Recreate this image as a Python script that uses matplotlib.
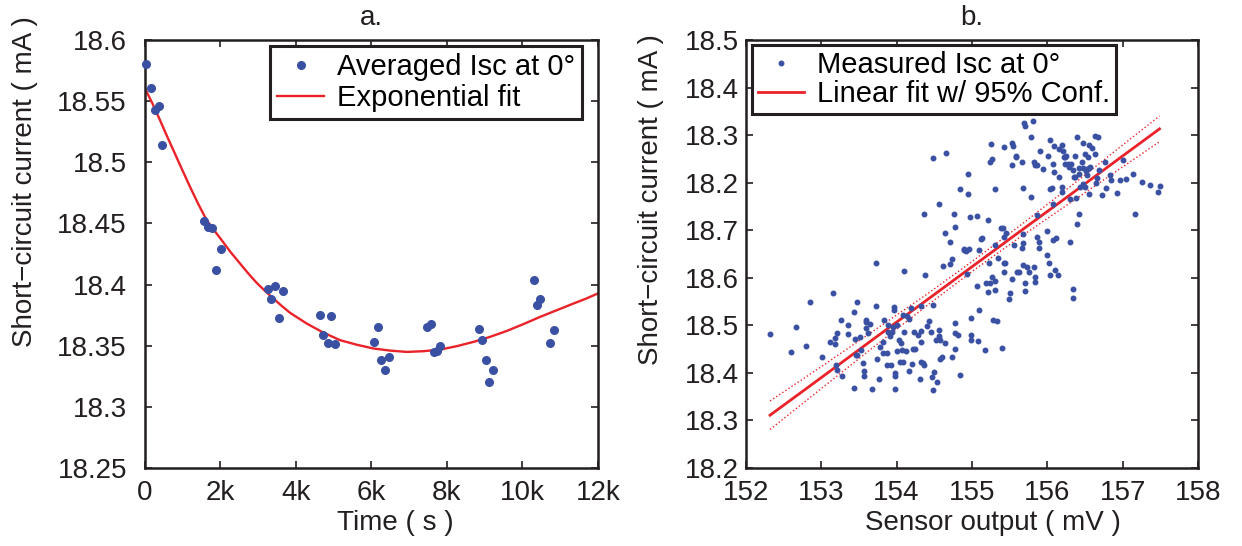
import matplotlib
matplotlib.use("Agg")
import matplotlib.pyplot as plt

plt.rcParams["font.family"] = ["Liberation Sans", "DejaVu Sans"]

BLUE = "#3a51a3"
RED = "#ea2229"
INK = "#231f20"

# ---- panel a: averaged Isc vs time ----
time_s = [30, 150, 265, 371, 442, 1573, 1679, 1767, 2006, 1891,
          3252, 3446, 3659, 3340, 3561, 4640, 4940, 4719, 4852, 5046,
          6080, 6168, 6257, 6469, 6363, 7467, 7573, 7653, 7741, 7829,
          8837, 8934, 9040, 9217, 9120, 10295, 10472, 10375, 10825, 10719]
isc_avg = [18.580, 18.561, 18.543, 18.546, 18.514, 18.452, 18.447, 18.446, 18.429, 18.412,
           18.396, 18.399, 18.395, 18.388, 18.373, 18.375, 18.374, 18.359, 18.352, 18.351,
           18.353, 18.365, 18.338, 18.341, 18.330, 18.365, 18.368, 18.345, 18.346, 18.350,
           18.364, 18.355, 18.338, 18.330, 18.320, 18.404, 18.388, 18.383, 18.363, 18.352]

fit_t = [0, 200, 398, 575, 751, 970, 1193, 1410, 1635, 1830, 2033, 2270, 2519, 2740,
         2960, 3180, 3402, 3620, 3844, 4286, 4720, 5170, 5610, 6053, 6490, 6937,
         7380, 7821, 8260, 8704, 9150, 9588, 10030, 10472, 10910, 11355, 11680, 12000]
fit_isc = [18.5604, 18.5480, 18.5345, 18.5220, 18.5100, 18.4950, 18.4800, 18.4660,
           18.4527, 18.4445, 18.4363, 18.4265, 18.4172, 18.4090, 18.4014, 18.3948,
           18.3886, 18.3826, 18.3769, 18.3681, 18.3608, 18.3545, 18.3508, 18.3477,
           18.3460, 18.3449, 18.3455, 18.3468, 18.3496, 18.3531, 18.3573, 18.3621,
           18.3677, 18.3736, 18.3790, 18.3845, 18.3884, 18.3927]

a_yticks = [18.25, 18.3, 18.35, 18.4, 18.45, 18.5, 18.55, 18.6]
a_ylabels = ["18.25", "18.3", "18.35", "18.4", "18.45", "18.5", "18.55", "18.6"]
a_xticks = [0, 2000, 4000, 6000, 8000, 10000, 12000]
a_xlabels = ["0", "2k", "4k", "6k", "8k", "10k", "12k"]

# ---- panel b: Isc vs sensor output ----
sensor_mv = [
    152.32, 152.60, 152.67, 152.80, 152.85, 153.01, 153.11, 153.16, 153.18, 153.18,
    153.21, 153.20, 153.21, 153.26, 153.28, 153.36, 153.36, 153.44, 153.44, 153.47,
    153.45, 153.46, 153.48, 153.51, 153.53, 153.55, 153.57, 153.57, 153.59, 153.59,
    153.59, 153.62, 153.65, 153.67, 153.72, 153.72, 153.74, 153.77, 153.78, 153.82,
    153.83, 153.82, 153.87, 153.87, 153.88, 153.88, 153.91, 153.92, 153.94, 153.95,
    153.97, 153.97, 153.98, 153.98, 153.98, 154.00, 154.00, 154.03, 154.05, 154.06,
    154.07, 154.08, 154.09, 154.10, 154.10, 154.13, 154.14, 154.16, 154.17, 154.19,
    154.20, 154.22, 154.23, 154.25, 154.28, 154.31, 154.32, 154.33, 154.33, 154.33,
    154.35, 154.36, 154.37, 154.38, 154.40, 154.43, 154.46, 154.47, 154.48, 154.48,
    154.49, 154.48, 154.52, 154.53, 154.56, 154.56, 154.56, 154.57, 154.58, 154.60,
    154.61, 154.64, 154.64, 154.66, 154.71, 154.71, 154.73, 154.74, 154.76, 154.77,
    154.77, 154.77, 154.77, 154.82, 154.84, 154.84, 154.89, 154.90, 154.92, 154.93,
    154.95, 154.95, 154.97, 154.96, 154.99, 154.99, 154.99, 155.07, 155.08, 155.07,
    155.09, 155.10, 155.12, 155.14, 155.18, 155.19, 155.22, 155.22, 155.23, 155.24,
    155.25, 155.26, 155.24, 155.27, 155.28, 155.30, 155.30, 155.30, 155.30, 155.33,
    155.35, 155.38, 155.41, 155.40, 155.42, 155.43, 155.43, 155.43, 155.44, 155.45,
    155.49, 155.51, 155.53, 155.54, 155.53, 155.53, 155.56, 155.58, 155.59, 155.60,
    155.62, 155.66, 155.66, 155.68, 155.68, 155.68, 155.68, 155.69, 155.71, 155.71,
    155.71, 155.73, 155.76, 155.79, 155.79, 155.81, 155.82, 155.83, 155.84, 155.84,
    155.84, 155.86, 155.87, 155.89, 155.89, 155.86, 155.91, 155.94, 155.99, 155.99,
    156.01, 156.02, 156.03, 156.04, 156.04, 156.06, 156.07, 156.07, 156.07, 156.09,
    156.09, 156.10, 156.12, 156.14, 156.15, 156.16, 156.19, 156.19, 156.20, 156.21,
    156.22, 156.23, 156.23, 156.25, 156.28, 156.29, 156.30, 156.30, 156.32, 156.34,
    156.34, 156.34, 156.36, 156.37, 156.37, 156.38, 156.40, 156.40, 156.42, 156.42,
    156.42, 156.44, 156.46, 156.48, 156.48, 156.48, 156.50, 156.50, 156.51, 156.53,
    156.53, 156.54, 156.55, 156.56, 156.56, 156.57, 156.60, 156.63, 156.64, 156.65,
    156.66, 156.68, 156.69, 156.73, 156.76, 156.78, 156.83, 156.85, 156.93, 156.96,
    157.01, 157.04, 157.14, 157.16, 157.26, 157.37, 157.47, 157.50]
isc_meas = [
    18.481, 18.443, 18.497, 18.456, 18.549, 18.434, 18.464, 18.567, 18.460, 18.474,
    18.484, 18.416, 18.407, 18.511, 18.394, 18.500, 18.481, 18.529, 18.369, 18.549,
    18.472, 18.437, 18.437, 18.476, 18.449, 18.420, 18.404, 18.393, 18.512, 18.507,
    18.495, 18.483, 18.502, 18.367, 18.540, 18.631, 18.430, 18.387, 18.455, 18.442,
    18.511, 18.465, 18.442, 18.416, 18.500, 18.486, 18.478, 18.417, 18.486, 18.497,
    18.539, 18.533, 18.399, 18.367, 18.394, 18.445, 18.500, 18.469, 18.423, 18.463,
    18.448, 18.423, 18.521, 18.615, 18.486, 18.445, 18.519, 18.403, 18.514, 18.537,
    18.418, 18.450, 18.486, 18.451, 18.479, 18.388, 18.540, 18.465, 18.488, 18.422,
    18.421, 18.733, 18.416, 18.606, 18.498, 18.509, 18.486, 18.391, 18.543, 18.851,
    18.402, 18.363, 18.470, 18.380, 18.755, 18.491, 18.477, 18.469, 18.430, 18.434,
    18.624, 18.695, 18.463, 18.863, 18.676, 18.629, 18.640, 18.434, 18.734, 18.504,
    18.484, 18.450, 18.707, 18.480, 18.396, 18.786, 18.661, 18.658, 18.656, 18.608,
    18.818, 18.777, 18.728, 18.660, 18.480, 18.469, 18.516, 18.582, 18.467, 18.730,
    18.658, 18.532, 18.681, 18.683, 18.448, 18.588, 18.721, 18.570, 18.630, 18.844,
    18.881, 18.849, 18.588, 18.602, 18.512, 18.593, 18.669, 18.786, 18.574, 18.509,
    18.641, 18.704, 18.704, 18.453, 18.686, 18.874, 18.632, 18.613, 18.630, 18.695,
    18.556, 18.567, 18.837, 18.878, 18.883, 18.597, 18.669, 18.854, 18.857, 18.612,
    18.612, 18.843, 18.662, 18.693, 18.674, 18.789, 18.626, 18.925, 18.920, 18.588,
    18.573, 18.623, 18.612, 18.897, 18.769, 18.930, 18.843, 18.622, 18.837, 18.602,
    18.592, 18.732, 18.686, 18.662, 18.675, 18.837, 18.866, 18.829, 18.698, 18.647,
    18.856, 18.632, 18.605, 18.890, 18.786, 18.788, 18.680, 18.840, 18.756, 18.877,
    18.822, 18.617, 18.683, 18.605, 18.811, 18.871, 18.879, 18.790, 18.781, 18.867,
    18.854, 18.853, 18.839, 18.857, 18.839, 18.833, 18.675, 18.765, 18.840, 18.577,
    18.558, 18.826, 18.812, 18.857, 18.811, 18.767, 18.897, 18.714, 18.734, 18.831,
    18.819, 18.791, 18.843, 18.883, 18.798, 18.831, 18.860, 18.791, 18.824, 18.828,
    18.817, 18.853, 18.880, 18.831, 18.777, 18.832, 18.872, 18.898, 18.861, 18.800,
    18.809, 18.897, 18.826, 18.774, 18.843, 18.789, 18.816, 18.805, 18.779, 18.806,
    18.847, 18.807, 18.818, 18.734, 18.801, 18.796, 18.780, 18.793]

lin_x = [152.32, 153.0, 153.7, 154.4, 155.0, 155.6, 156.3, 157.0, 157.49]
lin_fit = [18.311, 18.390, 18.472, 18.553, 18.623, 18.693, 18.774, 18.856, 18.913]
lin_upper = [18.341, 18.413, 18.489, 18.565, 18.634, 18.705, 18.791, 18.879, 18.940]
lin_lower = [18.281, 18.367, 18.455, 18.541, 18.613, 18.681, 18.757, 18.833, 18.886]

b_yticks = [18.2, 18.3, 18.4, 18.5, 18.6, 18.7, 18.8, 18.9, 19.0, 19.1]
b_ylabels = ["18.2", "18.3", "18.4", "18.5", "18.6", "18.7",
             "18.2", "18.3", "18.4", "18.5"]
b_xticks = [152, 153, 154, 155, 156, 157, 158]


def style_axes(ax, ypad):
    for sp in ax.spines.values():
        sp.set_linewidth(1.8)
        sp.set_color(INK)
    ax.tick_params(direction="in", length=5, width=1.2, colors=INK,
                   labelsize=20, top=True, right=True)
    ax.tick_params(axis="y", pad=ypad)
    ax.tick_params(axis="x", pad=9)


def style_legend(leg):
    leg.get_frame().set_edgecolor(INK)
    leg.get_frame().set_linewidth(2.2)
    leg.get_frame().set_alpha(1.0)


fig = plt.figure(figsize=(12.42, 5.46), dpi=100)

# --------------------------------------------------
# a. exponential fit over time
# --------------------------------------------------
ax1 = fig.add_axes([0.1167, 0.1429, 0.3647, 0.7839])
ax1.plot(time_s, isc_avg, "o", color=BLUE, markersize=5.5, label="Averaged Isc at 0°",
         clip_on=False, zorder=3)
ax1.plot(fit_t, fit_isc, "-", color=RED, linewidth=1.7, label="Exponential fit")
ax1.set_xlim(0, 12000)
ax1.set_ylim(18.25, 18.6)
ax1.set_xticks(a_xticks)
ax1.set_xticklabels(a_xlabels)
ax1.set_yticks(a_yticks)
ax1.set_yticklabels(a_ylabels)
style_axes(ax1, 13)
ax1.set_title("a.", fontsize=20, color=INK, pad=11)
ax1.set_xlabel("Time ( s )", fontsize=20, color=INK)
ax1.xaxis.set_label_coords(0.552, -0.1285)
ax1.xaxis.label.set_va("center")
ax1.set_ylabel("Short\u2212circuit current ( mA )", fontsize=20, color=INK)
ax1.yaxis.set_label_coords(-0.265, 0.67)
ax1.yaxis.label.set_va("center")
leg1 = ax1.legend(loc="upper left", bbox_to_anchor=(0.276, 0.986), borderaxespad=0,
                  fontsize=21, frameon=True, fancybox=False, framealpha=1.0,
                  handlelength=1.6, handletextpad=0.45, labelspacing=0.1,
                  borderpad=0.25, numpoints=1)
style_legend(leg1)

# --------------------------------------------------
# b. linear fit vs sensor output
# --------------------------------------------------
ax2 = fig.add_axes([0.6006, 0.1429, 0.3639, 0.7839])
ax2.plot(sensor_mv, isc_meas, ".", color=BLUE, markersize=6.5,
         label="Measured Isc at 0°", zorder=3)
ax2.plot(lin_x, lin_fit, "-", color=RED, linewidth=2.0, label="Linear fit w/ 95% Conf.")
ax2.plot(lin_x, lin_upper, ":", color=RED, linewidth=1.0)
ax2.plot(lin_x, lin_lower, ":", color=RED, linewidth=1.0)
ax2.set_xlim(152, 158)
ax2.set_ylim(18.2, 19.1)
ax2.set_xticks(b_xticks)
ax2.set_yticks(b_yticks)
ax2.set_yticklabels(b_ylabels)
style_axes(ax2, 5)
ax2.set_title("b.", fontsize=20, color=INK, pad=11)
ax2.set_xlabel("Sensor output ( mV )", fontsize=20, color=INK)
ax2.xaxis.set_label_coords(0.546, -0.1285)
ax2.xaxis.label.set_va("center")
ax2.set_ylabel("Short\u2212circuit current ( mA )", fontsize=20, color=INK)
ax2.yaxis.set_label_coords(-0.210, 0.628)
ax2.yaxis.label.set_va("center")
leg2 = ax2.legend(loc="upper left", bbox_to_anchor=(0.013, 0.988), borderaxespad=0,
                  fontsize=21, frameon=True, fancybox=False, framealpha=1.0,
                  handlelength=1.6, handletextpad=0.45, labelspacing=0.05,
                  borderpad=0.2, numpoints=1)
style_legend(leg2)

fig.savefig("out.png", dpi=100)
